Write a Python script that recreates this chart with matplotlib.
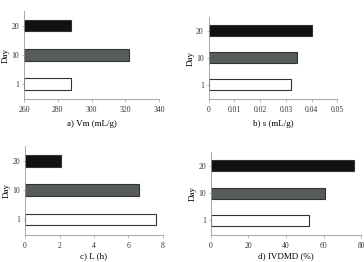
import matplotlib.pyplot as plt

days = ['1', '10', '20']
vm = [287.7, 322.4, 288.0]
s = [0.0321, 0.0342, 0.0401]
lag = [7.6, 6.6, 2.1]
ivdmd = [52.0, 60.5, 75.8]

bar_colors = ['white', '#565b5b', '#111111']

plt.rcParams['font.family'] = 'Liberation Serif'
plt.rcParams['font.size'] = 5.5

fig = plt.figure(figsize=(3.64, 2.62), dpi=100)

# axes rectangles in figure fractions
panels = [
    ([0.066, 0.622, 0.371, 0.336], vm, (260, 340), [260, 280, 300, 320, 340], 'a) Vm (mL/g)', 4),
    ([0.573, 0.622, 0.354, 0.313], s, (0, 0.05), [0, 0.01, 0.02, 0.03, 0.04, 0.05], 'b) s (mL/g)', 4),
    ([0.069, 0.104, 0.378, 0.339], lag, (0, 8), [0, 2, 4, 6, 8], 'c) L (h)', 2),
    ([0.579, 0.104, 0.414, 0.316], ivdmd, (0, 80), [0, 20, 40, 60, 80], 'd) IVDMD (%)', 2),
]

for rect, vals, xlim, xticks, label, lpad in panels:
    ax = fig.add_axes(rect)
    left = xlim[0]
    ax.barh(range(len(days)), [v - left for v in vals], left=left, height=0.4,
            color=bar_colors, edgecolor='#333333', linewidth=0.8)
    ax.set_xlim(*xlim)
    ax.set_ylim(-0.52, 2.5)
    ax.set_xticks(xticks)
    ax.set_xticklabels([('%g' % t) for t in xticks], color='#333333')
    ax.set_yticks(range(len(days)))
    ax.set_yticklabels(days, color='#333333')
    ax.set_ylabel('Day', fontsize=6.5, labelpad=1)
    ax.set_xlabel(label, fontsize=6.5, labelpad=lpad)
    for side in ['top', 'right']:
        ax.spines[side].set_visible(False)
    for side in ['left', 'bottom']:
        ax.spines[side].set_color('#999999')
        ax.spines[side].set_linewidth(0.6)
    ax.tick_params(axis='y', length=1.5, width=0.5, color='#999999', pad=2)
    ax.tick_params(axis='x', length=2, width=0.5, color='#999999', pad=3)

fig.savefig('out.png', dpi=100)
